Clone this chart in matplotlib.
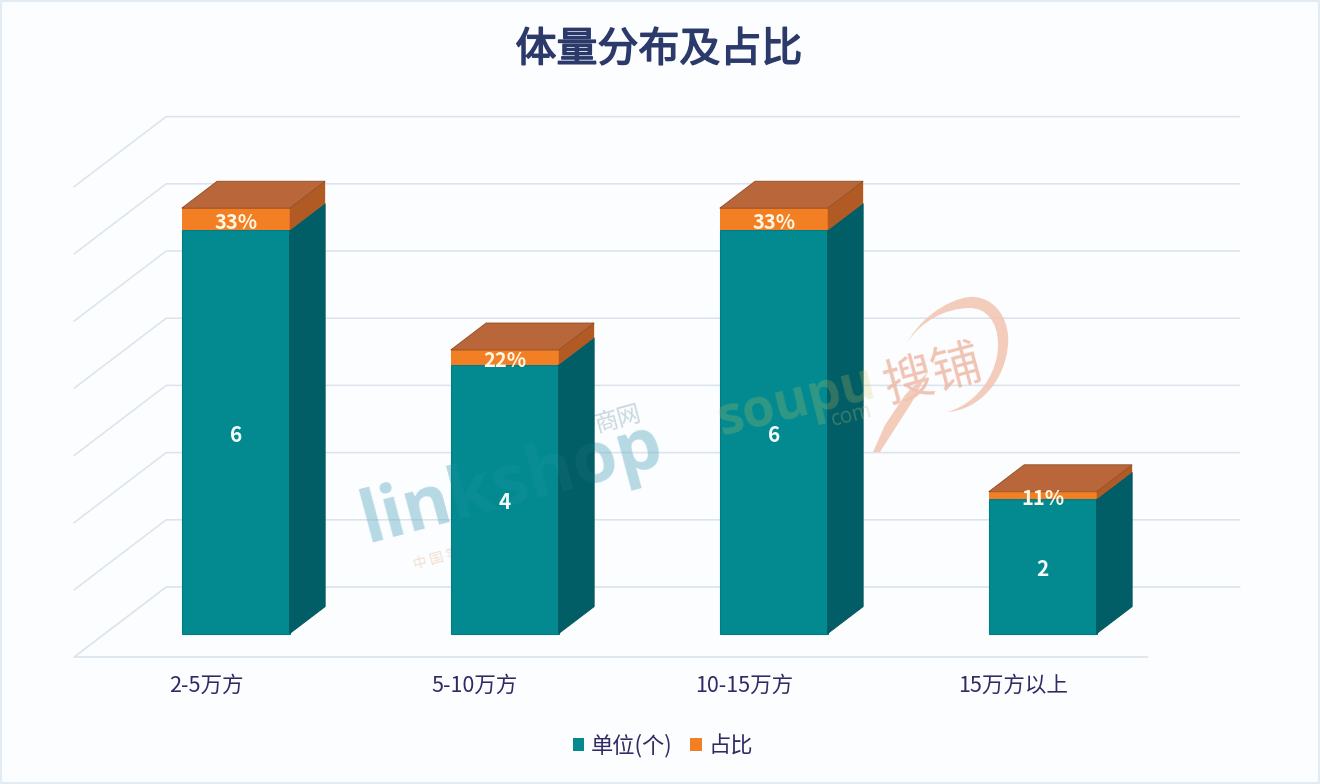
import matplotlib
matplotlib.use("Agg")
import matplotlib.pyplot as plt
import matplotlib.patheffects as pe
from matplotlib.patches import Patch, Polygon, PathPatch, Rectangle
from matplotlib.path import Path
from matplotlib.transforms import Affine2D

plt.rcParams['font.family'] = ['Noto Sans CJK SC', 'DejaVu Sans']

categories = ['2-5万方', '5-10万方', '10-15万方', '15万方以上']
units = [6, 4, 6, 2]
shares = [0.33, 0.22, 0.33, 0.11]
share_labels = ['33%', '22%', '33%', '11%']
grid_values = [1, 2, 3, 4, 5, 6, 7]
series_names = ['单位(个)', '占比']

W, H = 1320, 784
PX_X, PX_Y = 269.0, 67.2          # pixels per category / per unit
DEPTH_X, DEPTH_Y = 92 / PX_X, 70 / PX_Y   # oblique offset of the full floor depth
BAR_W = 108 / PX_X
BAR_SHIFT = -0.004
D0, D1 = 0.335, 0.72              # bar front/back position in the floor depth

TEAL, TEAL_SIDE = '#028A90', '#025E66'
ORANGE, ORANGE_SIDE, ORANGE_TOP = '#F27F23', '#B15A24', '#B9673A'
NAVY, INK, GRID = '#2B3A6B', '#2F2A66', '#DAE4ED'

fig = plt.figure(figsize=(W / 100, H / 100), dpi=100, facecolor='#FCFDFE')
fig.add_artist(Rectangle((0, 0), 1, 1, transform=fig.transFigure, fill=False,
                         edgecolor='#E3ECF2', linewidth=3))

left_px, bottom_px = 71.5, 657
xspan = 4 + DEPTH_X
yspan = 7 + DEPTH_Y
ax = fig.add_axes([left_px / W, (H - bottom_px) / H,
                   xspan * PX_X / W, yspan * PX_Y / H])
ax.set_xlim(-0.5, 3.5 + DEPTH_X)
ax.set_ylim(0, yspan)
ax.patch.set_alpha(0)
for s in ax.spines.values():
    s.set_visible(False)
ax.set_yticks([])
ax.set_xticks(range(len(categories)))
ax.set_xticklabels(categories, fontsize=15.5, color=INK)
ax.tick_params(axis='x', length=0, pad=13)


def P(i, v, d):
    return (i + d * DEPTH_X, v + d * DEPTH_Y)


# floor and wall lines
x0, x1 = -0.49, 3.5
ax.plot([P(x1, 0, 0)[0], P(x0, 0, 0)[0], P(x0, 0, 1)[0], P(x1, 0, 1)[0]],
        [P(x1, 0, 0)[1], P(x0, 0, 0)[1], P(x0, 0, 1)[1], P(x1, 0, 1)[1]],
        color=GRID, lw=1.2, zorder=1, clip_on=False)
for v in grid_values:
    a, b, c = P(x0, v, 0), P(x0, v, 1), P(x1, v, 1)
    ax.plot([a[0], b[0], c[0]], [a[1], b[1], c[1]], color=GRID, lw=1.1,
            zorder=1, clip_on=False)

# bars
for i, (u, s) in enumerate(zip(units, shares)):
    c = i + BAR_SHIFT
    fx, fy = P(c, 0, D0)
    ax.bar(fx, u, width=BAR_W, bottom=fy, color=TEAL, edgecolor='#027C82',
           linewidth=0.8, zorder=3)
    ax.bar(fx, s, width=BAR_W, bottom=fy + u, color=ORANGE, edgecolor='none',
           zorder=3)
    r = c + BAR_W / 2
    l = c - BAR_W / 2
    ax.add_patch(Polygon([P(r, 0, D0), P(r, 0, D1), P(r, u, D1), P(r, u, D0)],
                         facecolor=TEAL_SIDE, edgecolor='#02535B', lw=0.6, zorder=3))
    ax.add_patch(Polygon([P(r, u, D0), P(r, u, D1), P(r, u + s, D1), P(r, u + s, D0)],
                         facecolor=ORANGE_SIDE, edgecolor='none', zorder=3))
    ax.add_patch(Polygon([P(l, u + s, D0), P(l, u + s, D1), P(r, u + s, D1), P(r, u + s, D0)],
                         facecolor=ORANGE_TOP, edgecolor='#8E4A20', lw=0.6, zorder=3))
    ax.annotate(str(u), (fx, fy + u / 2), xytext=(0, -2.5), textcoords='offset points',
                ha='center', va='center', color='#F4FCFD',
                fontsize=15, fontweight='bold', zorder=7)
    ax.annotate(share_labels[i], (fx, fy + u + s / 2), xytext=(0, -2), textcoords='offset points',
                ha='center', va='center', color='#FFF6E4', fontsize=14.5,
                fontweight='bold', zorder=7)

# watermarks (placed in picture pixels): under the bars, with a faint copy on top
px = Affine2D().scale(1, -1).translate(0, H)
wm = dict(transform=px, ha='center', va='center', rotation_mode='anchor')
ax.text(512, 484, 'linkshop', color='#6FB4C9', alpha=0.45, fontsize=52,
        fontweight='bold', rotation=15, family='Open Sans', zorder=2, clip_on=False, **wm)
ax.text(512, 484, 'linkshop', color='#6FB4C9', alpha=0.07, fontsize=52,
        fontweight='bold', rotation=15, family='Open Sans', zorder=5, clip_on=False, **wm)
ax.text(618, 420, '商网', color='#9FB9C6', alpha=0.55, fontsize=17, rotation=15,
        zorder=2, clip_on=False, **wm)
ax.text(478, 548, '中 国 零 售 业 商 业 网', color='#E7B98F', alpha=0.45, fontsize=10,
        rotation=15, zorder=2, clip_on=False, **wm)
ax.text(797, 402, 'soupu', color='#D8C85A', alpha=0.22, fontsize=38,
        fontweight='bold', rotation=14, family='Open Sans', zorder=5, clip_on=False, **wm)
ax.text(852, 416, 'com', color='#B7BE7A', alpha=0.3, fontsize=15, rotation=14,
        family='Open Sans', zorder=5, clip_on=False, **wm)
ax.text(933, 375, '搜铺', color='#EDB09B', alpha=0.75, fontsize=36,
        rotation=15, zorder=5, clip_on=False, **wm)
verts = [(907, 343),
         (925, 310), (960, 295), (975, 297),
         (1000, 300), (1010, 325), (1008, 345),
         (1005, 380), (980, 410), (947, 412),
         (975, 405), (998, 375), (998, 345),
         (998, 320), (985, 308), (970, 308),
         (945, 308), (920, 322), (907, 343)]
codes = [Path.MOVETO] + [Path.CURVE4] * 18
ax.add_patch(PathPatch(Path(verts, codes), transform=px, facecolor='#F3C4B0',
                       edgecolor='none', alpha=0.85, zorder=5, clip_on=False))
tail = [(873, 452), (885, 425), (905, 395), (928, 372), (912, 402), (880, 452)]
ax.add_patch(Polygon(tail, closed=True, transform=px, facecolor='#F3C4B0',
                     edgecolor='none', alpha=0.85, zorder=5, clip_on=False))

# title and legend
title = fig.text(659 / W, 1 - 50 / H, '体量分布及占比', ha='center', va='center',
                 color=NAVY, fontsize=29.5, fontweight='normal')
title.set_path_effects([pe.withStroke(linewidth=1.1, foreground=NAVY)])
handles = [Patch(facecolor=TEAL, label=series_names[0]),
           Patch(facecolor=ORANGE, label=series_names[1])]
ax.legend(handles=handles, loc='center', bbox_to_anchor=(663 / W, 1 - 745.5 / H),
          bbox_transform=fig.transFigure, ncol=2, frameon=False, fontsize=16,
          labelcolor=INK, handlelength=0.52, handleheight=0.52,
          handletextpad=0.3, columnspacing=0.8, borderpad=0)

fig.savefig('out.png', dpi=100, facecolor=fig.get_facecolor())
